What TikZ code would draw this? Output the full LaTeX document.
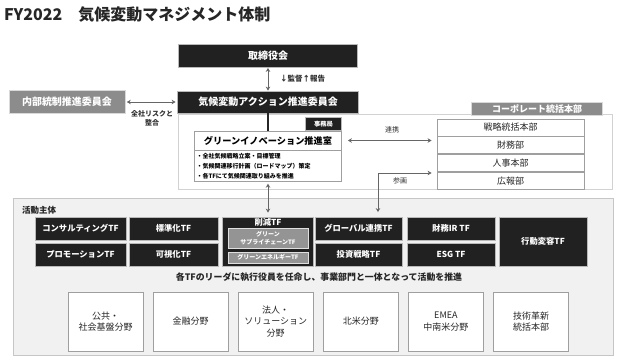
\documentclass[tikz,border=0pt]{standalone}
\usepackage{fontspec}
\setmainfont{Noto Sans CJK JP}
\usepackage{tikz}
\usetikzlibrary{positioning,calc,arrows.meta}
\tikzset{
  figfont/.style={font=\fontsize{8.3}{10}\selectfont\bfseries},
  figbig/.style={font=\fontsize{10}{12}\selectfont\bfseries},
  figdark/.style={draw=gray!55, fill=black!87, text=white, figfont, inner sep=0pt, line width=0.8pt, align=center},
  figgray/.style={draw=gray!30, fill=black!45, text=white, figbig, inner sep=0pt, line width=0.6pt, align=center},
  figsub/.style={draw=gray!25, fill=black!42, text=white, font=\fontsize{6}{7.5}\selectfont\bfseries, inner sep=0pt, line width=0.6pt, align=center},
  figwhite/.style={draw=gray!75, fill=white, text=black!85, font=\fontsize{9}{11.5}\selectfont, inner sep=0pt, line width=0.8pt, align=center},
  figlabel/.style={text=black!80, font=\fontsize{7}{9}\selectfont\bfseries, inner sep=0pt, align=center},
  figpanel/.style={draw=gray!35, line width=1pt},
  figarrow/.style={{Stealth[length=4pt,width=4.5pt]}-{Stealth[length=4pt,width=4.5pt]}, draw=black!60, line width=1pt},
  figline/.style={draw=black!85, line width=1.2pt},
}

\begin{document}
\begin{tikzpicture}[x=1pt, y=-1pt]
		\useasboundingbox[fill=white] (0,0) rectangle (624,359);

		% Title
		\node[anchor=west, inner sep=0pt, text=black!85, font=\fontsize{16}{19}\selectfont\bfseries] (title) at (4,15) {FY2022\quad 気候変動マネジメント体制};

		% Panels
		\draw[figpanel, fill=white] (178,114) rectangle (612,189);
		\draw[figpanel, fill=gray!11, draw=gray!45] (13,198) rectangle (613,355);
		\node[anchor=west, inner sep=0pt, text=black!85, font=\fontsize{8.5}{10}\selectfont\bfseries] (actlabel) at (22,210) {活動主体};

		% Governance
		\node[figdark, figbig, minimum width=179pt, minimum height=23pt] (board) at (268,56) {取締役会};
		\node[figdark, figbig, minimum width=181pt, minimum height=22pt] (acc) at (268,102) {気候変動アクション推進委員会};
		\node[figgray, minimum width=116pt, minimum height=23pt] (ic) at (67,102) {内部統制推進委員会};
		\draw[figarrow] (board) -- (acc);
		\node[figlabel, font=\fontsize{7.5}{9}\selectfont\bfseries, anchor=west] (report) at (280,79) {↓監督↑報告};
		\draw[figarrow, shorten <=1.5pt, shorten >=1.5pt] (ic) -- (acc);
		\node[figlabel] (risk) at (152,118) {全社リスクと\\整合};

		% Green innovation office
		\node[figwhite, font=\fontsize{9.2}{11}\selectfont\bfseries, text=black, minimum width=147pt, minimum height=19pt] (gititle) at (268,140.5) {グリーンイノベーション推進室};
		\node[figwhite, text=black, font=\fontsize{6}{10}\selectfont\bfseries, align=left, text width=143pt, minimum width=147pt, minimum height=31pt, inner sep=2pt, below=0pt of gititle] (gibody) {・全社気候戦略立案・目標管理\\・気候関連移行計画（ロードマップ）策定\\・各TFにて気候関連取り組みを推進};
		\node[figdark, font=\fontsize{6.3}{7}\selectfont\bfseries, minimum width=36pt, minimum height=13pt, anchor=south east] (office) at (gititle.north east) {事務局};
		\draw[figline] (acc) -- (gititle);

		% Corporate division
		\node[figgray, font=\fontsize{9}{11}\selectfont\bfseries, minimum width=131pt, minimum height=13pt] (corp) at (537,108.5) {コーポレート統括本部};
		\node[figwhite, minimum width=147pt, minimum height=17pt] (strat) at (510.5,127.5) {戦略統括本部};
		\node[figwhite, minimum width=147pt, minimum height=17pt, below=0pt of strat] (fin) {財務部};
		\node[figwhite, minimum width=147pt, minimum height=17pt, below=0pt of fin] (hr) {人事本部};
		\node[figwhite, minimum width=147pt, minimum height=17pt, below=0pt of hr] (pr) {広報部};

		% Task forces
		\node[figdark, minimum width=91pt, minimum height=23pt] (cons) at (80.5,228.5) {コンサルティングTF};
		\node[figdark, minimum width=91pt, minimum height=23pt] (promo) at (80.5,254.5) {プロモーションTF};
		\node[figdark, minimum width=89pt, minimum height=23pt] (std) at (173.5,228.5) {標準化TF};
		\node[figdark, minimum width=89pt, minimum height=23pt] (vis) at (173.5,254.5) {可視化TF};
		\node[figdark, minimum width=91pt, minimum height=49pt] (cut) at (268,241.5) {};
		\node[figfont, text=white, inner sep=0pt] (cutlabel) at (268,222) {削減TF};
		\node[figsub, minimum width=80pt, minimum height=20pt] (gsc) at (268,238) {グリーン\\サプライチェーンTF};
		\node[figsub, minimum width=80pt, minimum height=11pt] (gen) at (268,257.5) {グリーンエネルギーTF};
		\node[figdark, minimum width=87pt, minimum height=23pt] (glob) at (358.5,228.5) {グローバル連携TF};
		\node[figdark, minimum width=87pt, minimum height=23pt] (inv) at (358.5,254.5) {投資戦略TF};
		\node[figdark, minimum width=88pt, minimum height=23pt] (ir) at (451,228.5) {財務IR TF};
		\node[figdark, minimum width=88pt, minimum height=23pt] (esg) at (451,254.5) {ESG TF};
		\node[figdark, minimum width=88pt, minimum height=49pt] (behav) at (543,241.5) {行動変容TF};

		% Connectors
		\draw[figarrow, shorten <=1.5pt, shorten >=4pt] (gibody) -- (cut);
		\draw[figarrow, shorten <=6pt, shorten >=5pt] (gititle.east) -- (gititle.east -| fin.west);
		\node[figlabel, font=\fontsize{7}{8}\selectfont] (link) at (392,130) {連携};
		\coordinate (bend) at (378,173);
		\draw[figarrow, shorten <=4.5pt, shorten >=5pt] (bend |- glob.north) -- (bend) -- (bend -| pr.west);
		\node[figlabel, font=\fontsize{7}{8}\selectfont] (join) at (400,181) {参画};

		\node[inner sep=0pt, text=black!85, font=\fontsize{8.9}{10}\selectfont\bfseries] (note) at (319,277) {各TFのリーダに執行役員を任命し、事業部門と一体となって活動を推進};

		% Business units
		\node[figwhite, minimum width=75pt, minimum height=59pt] (pub) at (105.5,321.5) {公共・\\社会基盤分野};
		\node[figwhite, minimum width=75pt, minimum height=59pt] (finan) at (190.6,321.5) {金融分野};
		\node[figwhite, minimum width=75pt, minimum height=59pt] (corpsol) at (275.7,321.5) {法人・\\ソリューション\\分野};
		\node[figwhite, minimum width=75pt, minimum height=59pt] (na) at (360.8,321.5) {北米分野};
		\node[figwhite, minimum width=75pt, minimum height=59pt] (emea) at (445.9,321.5) {EMEA\\中南米分野};
		\node[figwhite, minimum width=75pt, minimum height=59pt] (tech) at (531,321.5) {技術革新\\統括本部};
	\end{tikzpicture}
\end{document}
